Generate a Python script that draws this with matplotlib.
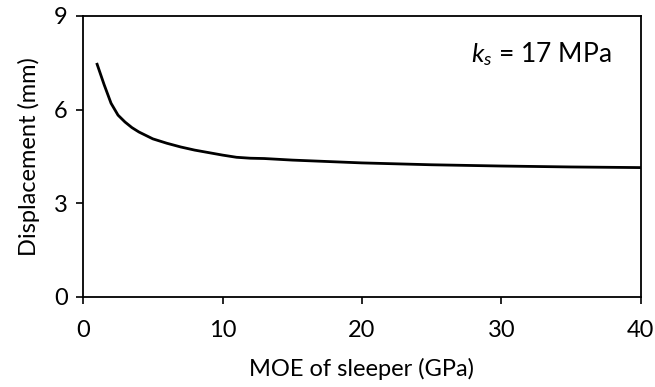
import matplotlib
matplotlib.use("Agg")
import matplotlib.pyplot as plt

# ---------------------------
# DATA
# ---------------------------
moe = [1, 1.5, 2, 2.5, 3, 3.5, 4, 5, 6, 7, 8, 9, 10, 11, 12, 13, 15, 20, 25, 30, 35, 40]
disp = [7.45, 6.8, 6.2, 5.82, 5.6, 5.42, 5.28, 5.06, 4.92, 4.8, 4.7, 4.62, 4.54, 4.47,
        4.44, 4.43, 4.38, 4.29, 4.23, 4.19, 4.16, 4.14]
xticks = [0, 10, 20, 30, 40]
yticks = [0, 3, 6, 9]

plt.rcParams['font.family'] = ['Lato', 'DejaVu Sans']
plt.rcParams['mathtext.fontset'] = 'custom'
plt.rcParams['mathtext.it'] = 'Lato:italic'
plt.rcParams['mathtext.rm'] = 'Lato'

fig = plt.figure(figsize=(6.55, 3.87), dpi=100)
ax = fig.add_axes([0.127, 0.233, 0.851, 0.726])

ax.plot(moe, disp, color='black', lw=2)

ax.set_xlim(0, 40)
ax.set_ylim(0, 9)
ax.set_xticks(xticks)
ax.set_yticks(yticks)
ax.tick_params(direction='out', length=5, width=1.2, labelsize=17)
ax.tick_params(axis='x', pad=12)
ax.tick_params(axis='y', pad=6)
for s in ax.spines.values():
    s.set_linewidth(1.3)

ax.set_xlabel("MOE of sleeper (GPa)", fontsize=17, labelpad=12)
ax.set_ylabel("Displacement (mm)", fontsize=17, labelpad=10)

ax.text(0.948, 0.865, r"$k_s$ = 17 MPa", transform=ax.transAxes,
        ha='right', va='center', fontsize=19)

fig.savefig("out.png", dpi=100)
